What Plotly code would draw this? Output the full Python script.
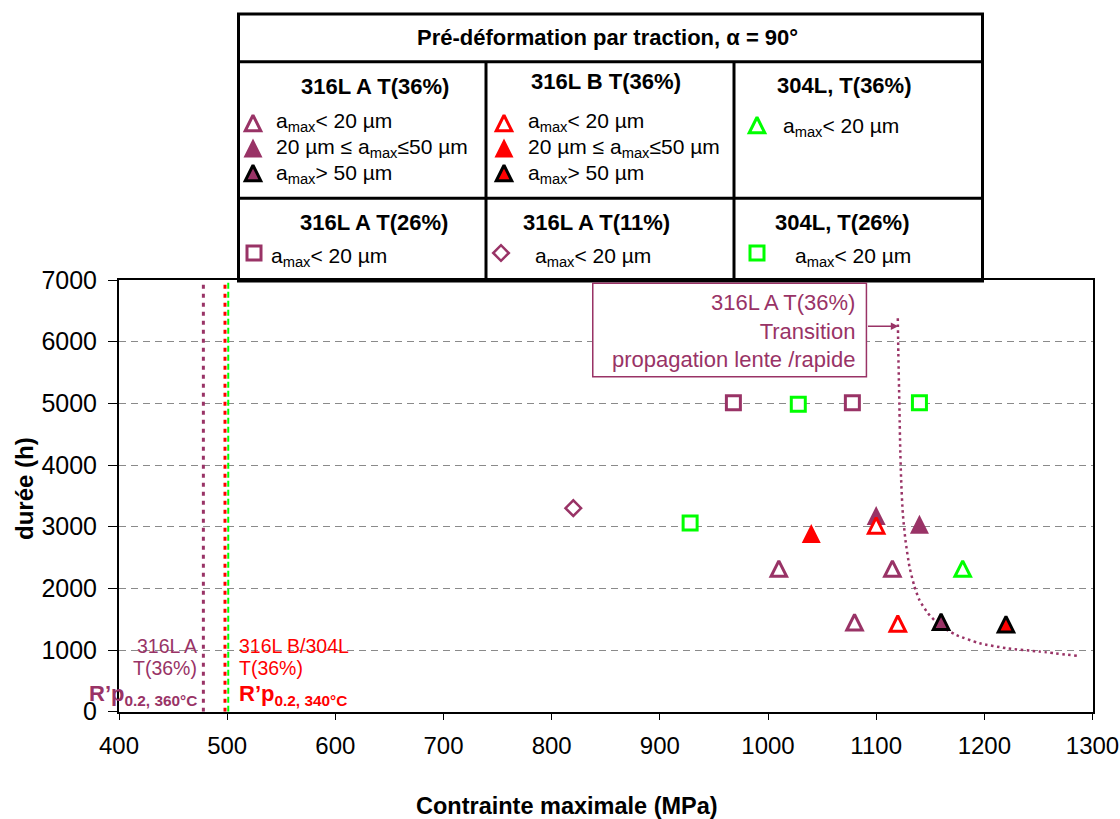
import plotly.graph_objects as go

# page body margin is removed by a small post script, so figure pixels = page pixels
OFF = 0
W, H = 1120 - OFF, 819 - OFF
# plot area in page pixels
PL, PR, PT, PB = 119, 1092.5, 280, 711.7

PURPLE = "#993366"
RED = "#FF0000"
GREEN = "#00FF00"
FONT = "Liberation Sans, Arial, sans-serif"

# ---------------- data ----------------
# 316L A T(36%)
a36_lt20_x = [1010, 1115, 1080]
a36_lt20_y = [2320, 2320, 1450]
a36_mid_x = [1100, 1140]
a36_mid_y = [3180, 3040]
a36_gt50_x = [1160]
a36_gt50_y = [1460]
# 316L B T(36%)
b36_lt20_x = [1100, 1120]
b36_lt20_y = [3020, 1430]
b36_mid_x = [1040]
b36_mid_y = [2890]
b36_gt50_x = [1220]
b36_gt50_y = [1420]
# 304L T(36%)
l304_36_x = [1180]
l304_36_y = [2320]
# 316L A T(26%)
a26_x = [968, 1078]
a26_y = [5010, 5010]
# 316L A T(11%)
a11_x = [820]
a11_y = [3300]
# 304L T(26%)
l304_26_x = [928, 1028, 1140]
l304_26_y = [3060, 4985, 5010]

# R'p0.2 values (MPa)
rp_316A = 478
rp_316B = 498
rp_304L = 501
rp_y = [0, 7000]

# transition slow/fast propagation (316L A T(36%))
trans_x = [1120, 1120.5, 1121, 1121.6, 1122.2, 1123.1, 1124.6, 1127.1, 1130.8,
           1135.4, 1140, 1147.7, 1158.6, 1174, 1195.7, 1220.3, 1251, 1286.3]
trans_y = [6380, 5810, 5380, 4840, 4300, 3760, 3220, 2780, 2350,
           2030, 1810, 1600, 1405, 1245, 1110, 1030, 975, 905]

x_ticks = [400, 500, 600, 700, 800, 900, 1000, 1100, 1200, 1300]
y_ticks = [0, 1000, 2000, 3000, 4000, 5000, 6000, 7000]

# ---------------- figure ----------------
fig = go.Figure()

TRI = 15.5
TRI_F = 19
SQ = 14

def pts(x, y, symbol, fill, lc, lw, size, xa="x", ya="y"):
    marker = dict(symbol=symbol, color=fill, size=size, line=dict(color=lc, width=lw))
    if symbol == "tri":
        # isosceles triangle (as tall as wide), centred on the point
        marker.update(symbol="arrow-down", angle=180, standoff=size / 2)
    fig.add_trace(go.Scatter(
        x=x, y=y, mode="markers", xaxis=xa, yaxis=ya, marker=marker,
        showlegend=False, hoverinfo="skip"))

# vertical yield lines
fig.add_trace(go.Scatter(x=[rp_316A, rp_316A], y=rp_y, mode="lines",
                         line=dict(color=PURPLE, width=3, dash="4px,5px"),
                         showlegend=False, hoverinfo="skip"))
fig.add_trace(go.Scatter(x=[rp_316B, rp_316B], y=rp_y, mode="lines",
                         line=dict(color=RED, width=3, dash="4px,5px"),
                         showlegend=False, hoverinfo="skip"))
fig.add_trace(go.Scatter(x=[rp_304L, rp_304L], y=rp_y, mode="lines",
                         line=dict(color=GREEN, width=2, dash="6px,3px"),
                         showlegend=False, hoverinfo="skip"))

# transition curve
fig.add_trace(go.Scatter(x=trans_x, y=trans_y, mode="lines",
                         line=dict(color=PURPLE, width=2.5, dash="2.5px,3.5px",
                                   shape="spline", smoothing=0.6),
                         showlegend=False, hoverinfo="skip"))

# data series
pts(a26_x, a26_y, "square", "white", PURPLE, 3, SQ)
pts(l304_26_x, l304_26_y, "square", "white", GREEN, 3, SQ)
pts(a11_x, a11_y, "diamond", "white", PURPLE, 2.5, 12)
pts(a36_lt20_x, a36_lt20_y, "tri", "white", PURPLE, 3, TRI)
pts(a36_mid_x, a36_mid_y, "tri", PURPLE, PURPLE, 0, TRI_F)
pts(a36_gt50_x, a36_gt50_y, "tri", PURPLE, "black", 3, TRI)
pts(b36_lt20_x, b36_lt20_y, "tri", "white", RED, 3, TRI)
pts(b36_mid_x, b36_mid_y, "tri", RED, RED, 0, TRI_F)
pts(b36_gt50_x, b36_gt50_y, "tri", RED, "black", 3, TRI)
pts(l304_36_x, l304_36_y, "tri", "white", GREEN, 3, TRI)

# ---------------- legend table (overlay pixel axes) ----------------
legend_marks = [
    (253, 123, "tri", "white", PURPLE, 3, TRI),
    (253, 148, "tri", PURPLE, PURPLE, 0, TRI_F),
    (253, 173, "tri", PURPLE, "black", 3, TRI),
    (504, 123, "tri", "white", RED, 3, TRI),
    (504, 148, "tri", RED, RED, 0, TRI_F),
    (504, 173, "tri", RED, "black", 3, TRI),
    (757, 125, "tri", "white", GREEN, 3, TRI),
    (254, 253, "square", "white", PURPLE, 3, SQ),
    (501, 253, "diamond", "white", PURPLE, 2.5, 12),
    (757, 253, "square", "white", GREEN, 3, SQ),
]
for (mx, my, sym, fill, lc, lw, sz) in legend_marks:
    pts([mx], [my], sym, fill, lc, lw, sz, xa="x2", ya="y2")

shapes = []
# table frame
tbl = dict(type="line", xref="x2", yref="y2", line=dict(color="black", width=3))
shapes.append(dict(type="rect", xref="x2", yref="y2", x0=238.5, y0=14, x1=982.5, y1=281,
                   line=dict(color="black", width=3), fillcolor="rgba(0,0,0,0)"))
shapes.append(dict(tbl, x0=238.5, x1=982.5, y0=61.7, y1=61.7))
shapes.append(dict(tbl, x0=238.5, x1=982.5, y0=198.3, y1=198.3))
shapes.append(dict(tbl, x0=486, x1=486, y0=61.7, y1=281))
shapes.append(dict(tbl, x0=734, x1=734, y0=61.7, y1=281))

# transition annotation box (data coords)
shapes.append(dict(type="rect", xref="x", yref="y", x0=838, x1=1091, y0=5432, y1=6947,
                   line=dict(color=PURPLE, width=1.5), fillcolor="white", layer="above"))

annotations = []

def txt(x, y, text, size, color="black", xanchor="left", yanchor="middle",
        xref="x2", yref="y2", angle=0, align="left"):
    annotations.append(dict(x=x, y=y, xref=xref, yref=yref, text=text, showarrow=False,
                            xanchor=xanchor, yanchor=yanchor, align=align,
                            textangle=angle,
                            font=dict(family=FONT, size=size, color=color)))

# table title and headers
txt(607, 37, "<b>Pré-déformation par traction, α = 90°</b>", 22, xanchor="center")
txt(374.5, 86, "<b>316L A T(36%)</b>", 22, xanchor="center")
txt(606, 81, "<b>316L B T(36%)</b>", 22, xanchor="center")
txt(844, 85, "<b>304L, T(36%)</b>", 22, xanchor="center")
txt(374, 222, "<b>316L A T(26%)</b>", 22, xanchor="center")
txt(596, 222, "<b>316L A T(11%)</b>", 22, xanchor="center")
txt(842.5, 222, "<b>304L, T(26%)</b>", 22, xanchor="center")

LT = "a<sub>max</sub>&lt; 20 µm"
MID = "20 µm ≤ a<sub>max</sub>≤50 µm"
GT = "a<sub>max</sub>&gt; 50 µm"
for cx in (274, 526):
    txt(cx, 122, LT, 21)
    txt(cx, 148, MID, 21)
    txt(cx, 174, GT, 21)
txt(781, 127, LT, 21)
txt(268.5, 257, LT, 21)
txt(532.7, 257, LT, 21)
txt(793, 257, LT, 21)

# transition text + arrow
txt(1082, 6170, "316L A T(36%)<br>Transition<br>propagation lente /rapide", 22,
    color=PURPLE, xanchor="right", xref="x", yref="y", align="right")
annotations.append(dict(x=1120.5, y=6250, xref="x", yref="y", ax=1091, ay=6250,
                        axref="x", ayref="y", text="", showarrow=True, arrowhead=2,
                        arrowsize=1, arrowwidth=1.5, arrowcolor=PURPLE))

# yield strength labels
txt(199, 646, "316L A", 19.5, color=PURPLE, xanchor="right")
txt(199, 668, "T(36%)", 19.5, color=PURPLE, xanchor="right")
txt(199, 695, "<b>R’p<sub>0.2, 360°C</sub></b>", 22, color=PURPLE, xanchor="right")
txt(236.5, 646, "316L B/304L", 19.5, color=RED)
txt(236.5, 668, "T(36%)", 19.5, color=RED)
txt(236.5, 695, "<b>R’p<sub>0.2, 340°C</sub></b>", 22, color=RED)

# axis titles
txt(566.5, 806, "<b>Contrainte maximale (MPa)</b>", 23.5, xanchor="center")
txt(24, 489, "<b>durée (h)</b>", 24, xanchor="center", angle=-90)

fig.update_layout(
    width=W, height=H,
    margin=dict(l=0, r=0, t=0, b=0, pad=0, autoexpand=False),
    paper_bgcolor="white", plot_bgcolor="rgba(0,0,0,0)",
    font=dict(family=FONT, color="black"),
    shapes=shapes, annotations=annotations,
    xaxis=dict(domain=[(PL - OFF) / W, (PR - OFF) / W], range=[400, 1300], tickvals=x_ticks,
               ticks="outside", ticklen=7, tickcolor="black", tickwidth=1,
               ticklabelstandoff=5, ticklabeloverflow="allow",
               showline=True, linecolor="black", linewidth=1.5, mirror=True,
               showgrid=False, zeroline=False, automargin=False,
               tickfont=dict(size=24, color="black", family=FONT), anchor="y"),
    yaxis=dict(domain=[(819 - PB) / H, (819 - PT) / H], range=[0, 7000], tickvals=y_ticks,
               ticks="outside", ticklen=9, tickcolor="black", tickwidth=1,
               ticklabelstandoff=6,
               showline=True, linecolor="black", linewidth=2, mirror=True,
               showgrid=True, gridcolor="#8a8a8a", gridwidth=1, griddash="7px,5px",
               zeroline=False, automargin=False,
               tickfont=dict(size=25, color="black", family=FONT), anchor="x"),
    xaxis2=dict(domain=[0, 1], range=[OFF, 1120], visible=False, anchor="y2",
                fixedrange=True, automargin=False),
    yaxis2=dict(domain=[0, 1], range=[819, OFF], visible=False, anchor="x2",
                fixedrange=True, automargin=False),
)

fig.write_html("out.html",
               config={"displayModeBar": False},
               post_script="document.body.style.margin='0px';"
                           "document.body.style.overflow='hidden';")
